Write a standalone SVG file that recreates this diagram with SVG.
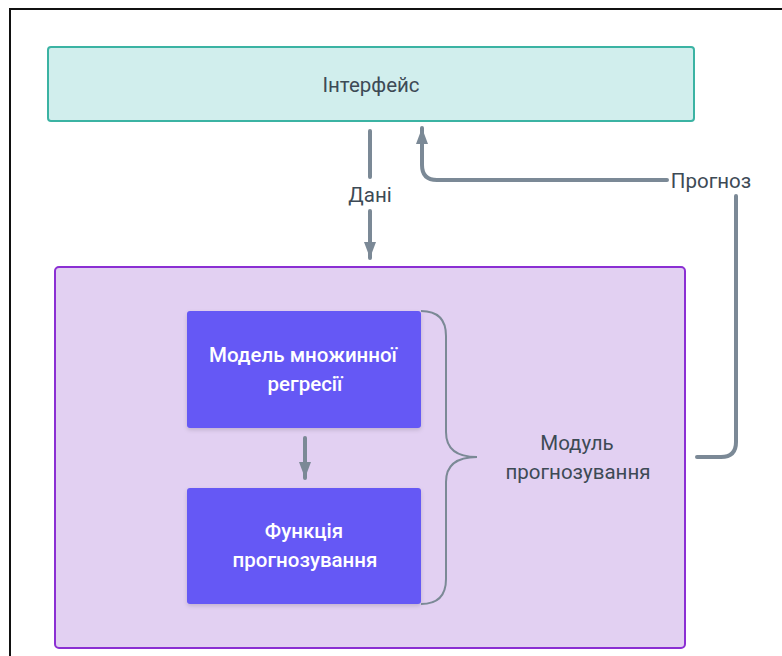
<svg xmlns="http://www.w3.org/2000/svg" width="782" height="656" viewBox="0 0 782 656">
<defs>
<style>
.lbl{font-family:Roboto,"Noto Sans",sans-serif;font-size:20.5px;fill:#3d4a55;text-anchor:middle}
.wht{font-family:Roboto,"Noto Sans",sans-serif;font-size:20.5px;font-weight:500;fill:#ffffff;text-anchor:middle}
.conn{fill:none;stroke:#7b8996;stroke-width:4;stroke-linecap:round}
.brace{fill:none;stroke:#7b8996;stroke-width:2}
.inner{fill:#6558f5;filter:url(#sh)}
</style>
<marker id="ah" viewBox="0 0 16 12" refX="16" refY="6" markerWidth="16" markerHeight="12" markerUnits="userSpaceOnUse" orient="auto">
<path d="M0,0 L16,6 L0,12 Z" fill="#7b8996"/>
</marker>
<filter id="sh" x="-10%" y="-10%" width="120%" height="130%">
<feDropShadow dx="0" dy="2" stdDeviation="2" flood-color="#000" flood-opacity="0.15"/>
</filter>
</defs>
<rect width="782" height="656" fill="#ffffff"/>
<rect x="10" y="9" width="800" height="700" fill="none" stroke="#111" stroke-width="2"/>
<g id="interface">
<rect x="48" y="47" width="646" height="74" rx="3" fill="#d1eeed" stroke="#3bb3a3" stroke-width="2"/>
<text class="lbl" x="371" y="92">Інтерфейс</text>
</g>
<g id="module">
<rect x="55" y="267" width="630" height="381" rx="4" fill="#e2d0f2" stroke="#8b2fd3" stroke-width="2"/>
<text class="lbl" x="577" y="450">Модуль</text>
<text class="lbl" x="578" y="479">прогнозування</text>
</g>
<g id="model">
<rect class="inner" x="187" y="311" width="234" height="117" rx="3"/>
<text class="wht" x="303" y="362">Модель множинної</text>
<text class="wht" x="305" y="391">регресії</text>
</g>
<g id="function">
<rect class="inner" x="187" y="488" width="234" height="116" rx="3"/>
<text class="wht" x="304" y="538">Функція</text>
<text class="wht" x="305" y="567">прогнозування</text>
</g>
<g id="connectors">
<line class="conn" x1="370" y1="131" x2="370" y2="177"/>
<text class="lbl" x="370" y="202">Дані</text>
<line class="conn" x1="370" y1="211" x2="370" y2="258" marker-end="url(#ah)"/>
<path class="conn" d="M667,180 L437,180 Q422,180 422,165 L422,128" marker-end="url(#ah)"/>
<text class="lbl" x="711" y="188">Прогноз</text>
<path class="conn" d="M736,196 L736,442 Q736,457 721,457 L697,457"/>
<line class="conn" x1="305" y1="438" x2="305" y2="478" marker-end="url(#ah)"/>
<path class="brace" d="M421,311 Q446,311 446,336 L446,432 Q446,457 477,457 Q446,457 446,482 L446,579 Q446,604 421,604"/>
</g>
</svg>
